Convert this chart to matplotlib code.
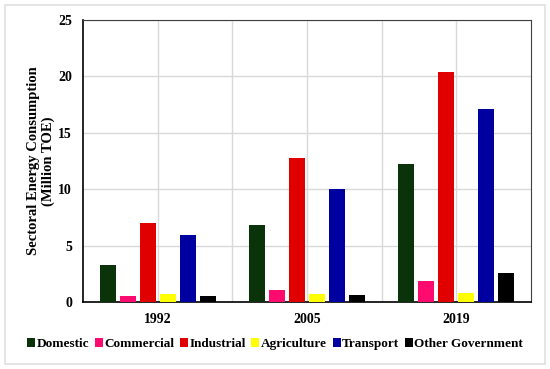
import matplotlib.pyplot as plt
import numpy as np
from matplotlib.patches import Rectangle

years = ['1992', '2005', '2019']
sectors = ['Domestic', 'Commercial', 'Industrial', 'Agriculture', 'Transport', 'Other Government']
colors = ['#0a330a', '#ff0a6e', '#e00000', '#ffff00', '#0000a0', '#000000']

domestic = [3.3, 6.8, 12.2]
commercial = [0.5, 1.1, 1.85]
industrial = [7.0, 12.75, 20.4]
agriculture = [0.75, 0.7, 0.8]
transport = [5.9, 10.05, 17.1]
other_gov = [0.52, 0.65, 2.57]
values = [domestic, commercial, industrial, agriculture, transport, other_gov]

plt.rcParams['font.family'] = 'Liberation Serif'
plt.rcParams['font.weight'] = 'bold'

fig = plt.figure(figsize=(5.5, 3.69), dpi=100)
ax = fig.add_axes([83 / 550, 1 - 302 / 369, 448 / 550, 282 / 369])

# outer light frame
fig.patches.append(Rectangle((5 / 550, 5 / 369), 540 / 550, 359 / 369, transform=fig.transFigure,
                             fill=False, edgecolor='#e0e0e0', lw=1.2))

x = np.arange(len(years)) + 0.5
step = 0.134
width = 0.109
for i, (name, vals) in enumerate(zip(sectors, values)):
    ax.bar(x + (i - 2.5) * step, vals, width, color=colors[i], label=name, zorder=3)

ax.set_xlim(0, 3)
ax.set_ylim(0, 25)
ax.set_yticks([0, 5, 10, 15, 20, 25])
ax.set_xticks(x)
ax.set_xticklabels(years)
ax.tick_params(axis='both', length=0, labelsize=10, pad=8)
ax.grid(True, axis='y', color='#d9d9d9', lw=1, zorder=0)
for gx in np.arange(0.5, 3, 0.5):
    ax.axvline(gx, color='#d9d9d9', lw=1, zorder=0)
for lbl in ax.get_xticklabels() + ax.get_yticklabels():
    lbl.set_fontweight('bold')

for s in ['top', 'right']:
    ax.spines[s].set_color('#404040')
for s in ['left', 'bottom']:
    ax.spines[s].set_color('black')
    ax.spines[s].set_linewidth(1.2)

ax.set_ylabel('Sectoral Energy Consumption\n(Million TOE)', fontsize=10.5, fontweight='bold', labelpad=2)

fig.legend(loc='center', bbox_to_anchor=(0.5, 1 - 344 / 369), ncol=6, frameon=False,
           handlelength=0.6, handleheight=0.6, handletextpad=0.1, columnspacing=0.45,
           prop={'weight': 'bold', 'size': 9.5})

fig.savefig('out.png', dpi=100)
